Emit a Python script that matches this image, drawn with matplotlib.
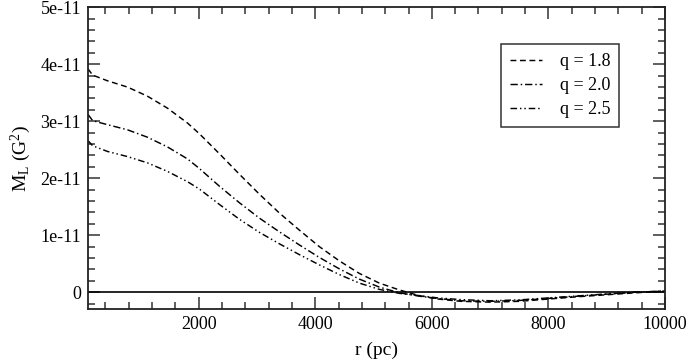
import matplotlib
matplotlib.use("Agg")
import matplotlib.pyplot as plt
from matplotlib.ticker import MultipleLocator

plt.rcParams['font.family'] = ['Liberation Serif', 'DejaVu Serif']
plt.rcParams['mathtext.fontset'] = 'custom'
plt.rcParams['mathtext.rm'] = 'Liberation Serif'
plt.rcParams['mathtext.it'] = 'Liberation Serif:italic'

SCALE = 1e-11

r_18 = [100, 180, 435, 778, 1120, 1463, 1806, 2012, 2355, 2698, 3041, 3383, 3726,
        4069, 4412, 4755, 5098, 5441, 5784, 6100, 6500, 7000, 7500, 8000, 8500,
        9000, 9500, 10000]
m_18 = [3.92, 3.81, 3.71, 3.60, 3.44, 3.23, 2.97, 2.78, 2.43, 2.07, 1.72, 1.39, 1.09,
        0.80, 0.55, 0.33, 0.16, 0.04, -0.06, -0.12, -0.16, -0.175, -0.16, -0.12, -0.08,
        -0.045, -0.01, 0.02]

r_20 = [100, 180, 435, 778, 1120, 1463, 1806, 2012, 2355, 2698, 3041, 3383, 3726,
        4069, 4412, 4755, 5098, 5441, 5784, 6100, 6500, 7000, 7500, 8000, 8500,
        9000, 9500, 10000]
m_20 = [3.12, 3.01, 2.94, 2.85, 2.72, 2.55, 2.34, 2.17, 1.86, 1.57, 1.30, 1.06, 0.83,
        0.61, 0.41, 0.23, 0.09, -0.01, -0.07, -0.11, -0.15, -0.16, -0.145, -0.11, -0.07,
        -0.035, 0.00, 0.02]

r_25 = [100, 180, 435, 778, 1120, 1463, 1806, 2012, 2355, 2698, 3041, 3383, 3726,
        4069, 4412, 4755, 5098, 5441, 5784, 6100, 6500, 7000, 7500, 8000, 8500,
        9000, 9500, 10000]
m_25 = [2.66, 2.57, 2.47, 2.38, 2.27, 2.12, 1.94, 1.81, 1.54, 1.28, 1.05, 0.85, 0.66,
        0.48, 0.31, 0.16, 0.05, -0.02, -0.06, -0.10, -0.13, -0.15, -0.135, -0.10, -0.065,
        -0.03, 0.00, 0.02]

labels = ['q = 1.8', 'q = 2.0', 'q = 2.5']
xticks = [2000, 4000, 6000, 8000, 10000]
yticks = [0, 1, 2, 3, 4, 5]
ytick_labels = ['0', '1e-11', '2e-11', '3e-11', '4e-11', '5e-11']

fig = plt.figure(figsize=(6.92, 3.60), dpi=100)
ax = fig.add_axes([88/692, 1-309.3/360, (665-88)/692, (309.3-7.3)/360])

ax.plot(r_18, [v*SCALE for v in m_18], color='black', lw=1.05, ls=(0, (4, 2.5)), label=labels[0])
ax.plot(r_20, [v*SCALE for v in m_20], color='black', lw=1.05, ls=(0, (5, 2, 1, 2)), label=labels[1])
ax.plot(r_25, [v*SCALE for v in m_25], color='black', lw=1.05, ls=(0, (4.5, 2, 1, 2, 1, 2)), label=labels[2])
ax.axhline(0, color='black', lw=1.2)

ax.set_xlim(100, 10000)
ax.set_ylim(-0.3*SCALE, 5*SCALE)
ax.set_xticks(xticks)
ax.set_xticklabels([str(t) for t in xticks])
ax.set_yticks([t*SCALE for t in yticks])
ax.set_yticklabels(ytick_labels)
ax.xaxis.set_minor_locator(MultipleLocator(400))
ax.yaxis.set_minor_locator(MultipleLocator(0.2*SCALE))
ax.tick_params(which='both', direction='in', top=True, right=True, labelsize=13, width=1.1, color='#333333')
ax.tick_params(which='major', length=8.5, pad=5)
ax.tick_params(which='minor', length=5)
for s in ax.spines.values():
    s.set_linewidth(1.3)
    s.set_color('#222222')

ax.set_xlabel('r (pc)', fontsize=14, labelpad=6)
ax.set_ylabel(r'M$_{\mathrm{L}}$ (G$^{2}$)', fontsize=14, labelpad=5)

leg = ax.legend(loc='upper left', bbox_to_anchor=(0.716, 0.878), borderaxespad=0,
                fontsize=13, frameon=True, fancybox=False, handlelength=1.75,
                handletextpad=1.0, labelspacing=0.38, borderpad=0.5)
leg.get_frame().set_edgecolor('black')
leg.get_frame().set_linewidth(1.1)

fig.savefig('out.png', dpi=100)
